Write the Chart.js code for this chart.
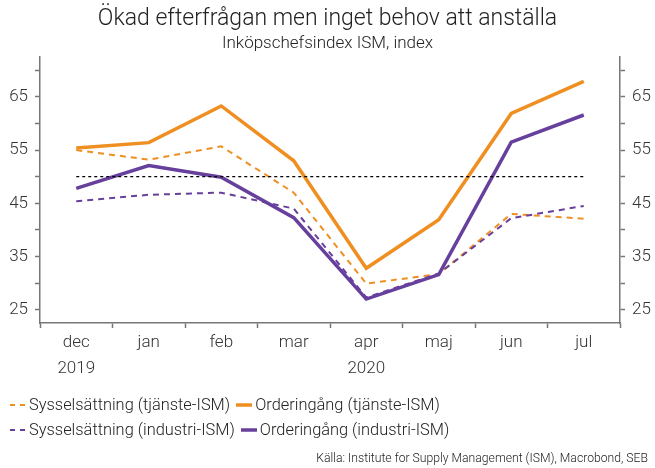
<!DOCTYPE html>
<html>
<head>
<meta charset="utf-8">
<script src="https://cdn.jsdelivr.net/npm/chart.js@4"></script>
<style>
  html, body { margin: 0; padding: 0; background: #fff; }
  #wrap { position: relative; width: 655px; height: 468px; font-family: Roboto, "Noto Sans", sans-serif; color: #222; }
  #c { position: absolute; left: 0; top: 0; }
  .leg { position: absolute; left: 10px; font-size: 16.4px; white-space: nowrap; display: flex; align-items: center; font-weight: 300; }
  .leg svg { display: block; margin-right: 3px; }
  .leg .txt { margin-right: 6px; }
  #src { position: absolute; right: 7px; top: 451px; font-size: 12.2px; color: #222; font-weight: 300; }
</style>
</head>
<body>
<div id="wrap">
  <canvas id="c" width="655" height="468"></canvas>
  <div class="leg" style="top:395px">
    <svg width="16" height="4"><line x1="0" y1="2" x2="16" y2="2" stroke="#EF8F22" stroke-width="2" stroke-dasharray="5,5"/></svg><span class="txt">Sysselsättning (tjänste-ISM)</span>
    <svg width="16" height="4"><line x1="0" y1="2" x2="16" y2="2" stroke="#EF8F22" stroke-width="3.5"/></svg><span class="txt">Orderingång (tjänste-ISM)</span>
  </div>
  <div class="leg" style="top:420px">
    <svg width="16" height="4"><line x1="0" y1="2" x2="16" y2="2" stroke="#673F9C" stroke-width="2" stroke-dasharray="5,5"/></svg><span class="txt">Sysselsättning (industri-ISM)</span>
    <svg width="16" height="4"><line x1="0" y1="2" x2="16" y2="2" stroke="#673F9C" stroke-width="3.5"/></svg><span class="txt">Orderingång (industri-ISM)</span>
  </div>
  <div id="src">Källa: Institute for Supply Management (ISM), Macrobond, SEB</div>
</div>
<script>
const categories = [["dec", "2019"], "jan", "feb", "mar", ["apr", "2020"], "maj", "jun", "jul"];
const syssTjanste = [55.0, 53.2, 55.7, 47.0, 29.9, 31.7, 43.0, 42.1];
const orderTjanste = [55.4, 56.4, 63.3, 53.0, 32.8, 41.9, 61.9, 67.9];
const syssIndustri = [45.4, 46.6, 47.0, 44.0, 27.3, 31.8, 42.2, 44.5];
const orderIndustri = [47.8, 52.1, 49.9, 42.3, 27.0, 31.6, 56.5, 61.6];
const referenceLevel = [50, 50, 50, 50, 50, 50, 50, 50];
const yTicks = [25, 30, 35, 40, 45, 50, 55, 60, 65, 70];
const yLabels = [25, 35, 45, 55, 65];

const ORANGE = '#EF8F22';
const PURPLE = '#673F9C';
const FONT = 'Roboto, "Noto Sans", sans-serif';

function yAxis(pos, w) {
  return {
    type: 'linear',
    position: pos,
    min: 22.5,
    max: 72.5,
    afterBuildTicks: s => { s.ticks = yTicks.map(v => ({ value: v })); },
    afterFit: s => { s.width = w; },
    border: { display: true, color: '#777', width: 1.5 },
    grid: { drawOnChartArea: false, drawTicks: true, tickLength: 5, color: '#777', tickWidth: 1.5 },
    ticks: {
      padding: 7,
      color: '#333',
      font: { family: FONT, size: 17, weight: 300 },
      callback: v => (yLabels.includes(v) ? String(v) : '')
    }
  };
}

new Chart(document.getElementById('c'), {
  type: 'line',
  data: {
    labels: categories,
    datasets: [
      { data: referenceLevel, borderColor: '#000', borderWidth: 1.3, borderDash: [3, 3], pointRadius: 0, order: 0 },
      { data: syssTjanste, borderColor: ORANGE, borderWidth: 2, borderDash: [6, 5], pointRadius: 0, order: 4 },
      { data: orderTjanste, borderColor: ORANGE, borderWidth: 3.5, pointRadius: 0, order: 3 },
      { data: syssIndustri, borderColor: PURPLE, borderWidth: 2, borderDash: [6, 5], pointRadius: 0, order: 2 },
      { data: orderIndustri, borderColor: PURPLE, borderWidth: 3.5, pointRadius: 0, order: 1 }
    ]
  },
  options: {
    responsive: false,
    animation: false,
    layout: { padding: { left: 0, right: 0, top: 0, bottom: 88 } },
    plugins: {
      legend: { display: false },
      tooltip: { enabled: false },
      title: {
        display: true,
        text: 'Ökad efterfrågan men inget behov att anställa',
        color: '#222',
        font: { family: FONT, size: 23, weight: 300 },
        padding: { top: 5, bottom: 0 }
      },
      subtitle: {
        display: true,
        text: 'Inköpschefsindex ISM, index',
        color: '#222',
        font: { family: FONT, size: 17, weight: 300 },
        padding: { top: 1, bottom: 3 }
      }
    },
    scales: {
      x: {
        offset: true,
        afterFit: s => { s.height = 57; },
        border: { display: true, color: '#777', width: 1.5 },
        grid: { offset: true, drawOnChartArea: false, drawTicks: true, tickLength: 5, color: '#777', tickWidth: 1.5 },
        ticks: {
          padding: 2,
          color: '#333',
          maxRotation: 0,
          font: { family: FONT, size: 17, weight: 300, lineHeight: 1.5 }
        }
      },
      y: yAxis('left', 40),
      y2: yAxis('right', 35)
    }
  }
});
</script>
</body>
</html>
